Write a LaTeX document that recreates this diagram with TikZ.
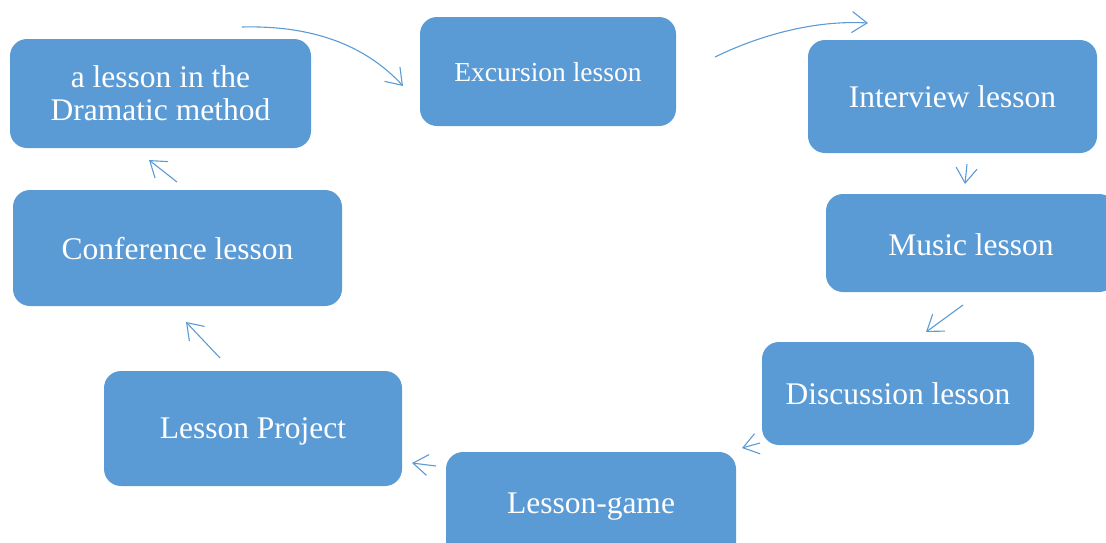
\documentclass[tikz,border=0pt]{standalone}
\usepackage{fontspec}
\setmainfont{Liberation Serif}
\usetikzlibrary{arrows.meta}
\definecolor{boxblue}{HTML}{5B9BD5}
\tikzset{
  lbox/.style={fill=boxblue, draw=none, rounded corners=17pt, text=white, align=center, inner sep=0pt,
    text depth=0pt, font=\fontsize{31.5}{33}\selectfont},
  conn/.style={draw=boxblue, line width=1.1pt, -{Straight Barb[length=15pt,width=21pt,line width=1.1pt]}}
}
\begin{document}
\begin{tikzpicture}[x=1pt,y=-1pt]
\useasboundingbox (0,0) rectangle (1106,542);
\begin{scope}
\clip (0,0) rectangle (1106,542);
\node[lbox, minimum width=301pt, minimum height=109pt] (dram) at (160.5,93.5) {a lesson in the\\Dramatic method};
\node[lbox, minimum width=256pt, minimum height=109pt, font=\fontsize{27.5}{30}\selectfont] (exc) at (548,71.5) {Excursion lesson};
\node[lbox, minimum width=289pt, minimum height=113pt] (int) at (952.5,96.5) {Interview lesson};
\node[lbox, minimum width=290pt, minimum height=98pt] (mus) at (971,243) {};
\node[text=white, font=\fontsize{31.5}{33}\selectfont, inner sep=0pt, text depth=0pt] (muslbl) at (971,245) {Music lesson};
\node[lbox, minimum width=272pt, minimum height=103pt] (disc) at (898,393.5) {Discussion lesson};
\node[lbox, minimum width=290pt, minimum height=110pt] (game) at (591,507) {};
\node[text=white, font=\fontsize{31.5}{33}\selectfont, inner sep=0pt, text depth=0pt] (gamelbl) at (591,503) {Lesson-game};
\node[lbox, minimum width=298pt, minimum height=115pt] (proj) at (253,428.5) {Lesson Project};
\node[lbox, minimum width=329pt, minimum height=116pt] (conf) at (177.5,248) {Conference lesson};
\end{scope}
\coordinate (a1s) at (242,27); \coordinate (a1e) at (403,86);
\coordinate (a2s) at (715,57); \coordinate (a2e) at (868,23);
\coordinate (a3s) at (967,164); \coordinate (a3e) at (965,184);
\coordinate (a4s) at (963,305); \coordinate (a4e) at (926,332);
\coordinate (a5s) at (760,443); \coordinate (a5e) at (742,448);
\coordinate (a6s) at (436,466); \coordinate (a6e) at (412,463);
\coordinate (a7s) at (220,358); \coordinate (a7e) at (186,322);
\coordinate (a8s) at (177,182); \coordinate (a8e) at (149,160);
\draw[conn] (a1s) .. controls (320,25) and (370,50) .. (a1e);
\draw[conn] (a2s) .. controls (760,35) and (815,20) .. (a2e);
\draw[conn] (a3s) -- (a3e);
\draw[conn] (a4s) -- (a4e);
\draw[conn] (a5s) -- (a5e);
\draw[conn] (a6s) -- (a6e);
\draw[conn] (a7s) -- (a7e);
\draw[conn] (a8s) -- (a8e);
\end{tikzpicture}
\end{document}
